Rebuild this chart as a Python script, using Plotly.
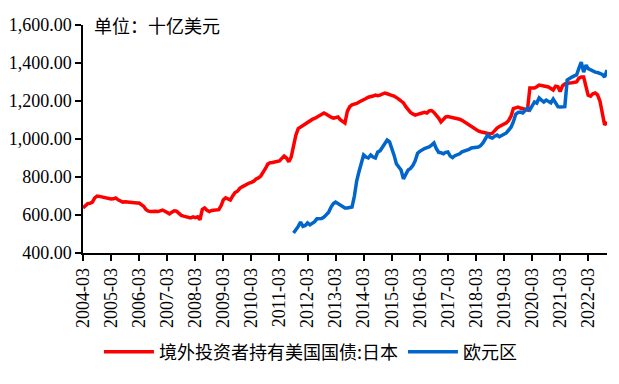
import pandas as pd
import plotly.graph_objects as go

# Monthly, 2004-03 .. 2022-11
japan = [
    637, 648, 660, 662, 668, 690, 700, 698, 695, 692, 690, 685,
    684, 685, 690, 680, 672, 668, 670, 668, 667, 668, 665, 663,
    663, 655, 645, 628, 620, 618, 620, 620, 618, 622, 626, 620,
    612, 606, 615, 622, 620, 608, 598, 594, 592, 588, 585, 590,
    586, 590, 575, 630, 637, 625, 618, 624, 626, 625, 628, 650,
    680, 690, 684, 679, 700, 718, 725, 740, 748, 755, 765, 768,
    772, 778, 790, 795, 805, 822, 845, 868, 875, 876, 878, 880,
    885, 898, 910, 900, 880, 905, 965, 1020, 1055, 1063, 1072, 1082,
    1090, 1098, 1103, 1108, 1115, 1122, 1128, 1137, 1130, 1121, 1115, 1110,
    1112, 1116, 1102, 1090, 1084, 1145, 1170, 1180, 1183, 1187, 1195, 1203,
    1208, 1213, 1220, 1222, 1226, 1231, 1228, 1231, 1238, 1242, 1238, 1236,
    1230, 1226, 1220, 1210, 1200, 1190, 1170, 1155, 1140, 1132, 1126, 1130,
    1135, 1137, 1140, 1137, 1148, 1150, 1140, 1126, 1110, 1090, 1105, 1116,
    1118, 1116, 1114, 1110, 1108, 1104, 1098, 1090, 1082, 1072, 1063, 1055,
    1047, 1042, 1038, 1035, 1032, 1030, 1027, 1030, 1047, 1058, 1066, 1072,
    1074, 1085, 1098, 1120, 1160, 1165, 1168, 1163, 1158, 1155, 1153, 1268,
    1270, 1268, 1275, 1284, 1282, 1279, 1277, 1274, 1266, 1258, 1278, 1275,
    1250, 1280, 1290, 1295, 1295, 1296, 1298, 1300, 1320, 1326, 1326, 1280,
    1230, 1225, 1238, 1242, 1232, 1200, 1130, 1074, 1090,
]

# Monthly, 2011-09 .. 2022-11
euro = [
    505, 520, 540, 563, 540, 545,
    558, 548, 555, 565, 580, 582, 582, 589, 600, 615, 642, 660,
    668, 660, 653, 640, 637, 637, 638, 642, 700, 780, 830, 870,
    916, 905, 900, 916, 905, 900, 932, 938, 955, 972, 995, 985,
    955, 915, 870, 850, 837, 790, 810, 837, 845, 860, 885, 925,
    935, 945, 950, 955, 958, 968, 979, 950, 930, 928, 922, 930,
    932, 910, 902, 912, 916, 922, 932, 935, 942, 945, 953, 955,
    957, 958, 965, 979, 1000, 1021, 1008, 1005, 1015, 1021, 1012, 1021,
    1025, 1032, 1045, 1062, 1090, 1130, 1140, 1142, 1137, 1150, 1163, 1153,
    1175, 1195, 1189, 1216, 1205, 1195, 1205, 1195, 1190, 1210, 1185, 1170,
    1168, 1168, 1170, 1310, 1320, 1326, 1332, 1337, 1373, 1405, 1352, 1389,
    1370, 1363, 1355, 1352, 1350, 1347, 1340, 1326, 1363,
]

japan_dates = pd.date_range("2004-03-01", periods=len(japan), freq="MS")
euro_dates = pd.date_range("2011-09-01", periods=len(euro), freq="MS")

tick_years = list(range(2004, 2023))
tick_vals = [f"{y}-03-01" for y in tick_years]
tick_text = [f"{y}-03" for y in tick_years]

name_japan = "境外投资者持有美国国债:日本"
name_euro = "欧元区"
unit_text = "单位：十亿美元"

serif = "'Liberation Serif', 'Times New Roman', 'DejaVu Serif', serif"
cjk = "'Noto Sans CJK SC', sans-serif"

fig = go.Figure()
fig.add_trace(go.Scatter(x=japan_dates, y=japan, mode="lines", name=name_japan,
                         line=dict(color="#ff0000", width=3.5)))
fig.add_trace(go.Scatter(x=euro_dates, y=euro, mode="lines", name=name_euro,
                         line=dict(color="#0066cc", width=3.5)))

# page body has an 8px margin, so the figure is 8px smaller and margins shifted
fig.update_layout(
    width=611, height=376,
    margin=dict(l=75, r=12, t=17, b=131, autoexpand=False),
    paper_bgcolor="white", plot_bgcolor="white",
    font=dict(family=serif),
    showlegend=True,
    legend=dict(orientation="h", x=0.435, xanchor="center", y=-0.434, yanchor="middle",
                font=dict(family=cjk, size=18, color="#000000"),
                itemwidth=50, tracegroupgap=0),
    annotations=[dict(text=unit_text, x=(92 - 83) / 524, y=1600, xref="paper", yref="y",
                      showarrow=False, xanchor="left", yanchor="middle",
                      font=dict(family=cjk, size=18, color="#000000"))],
)

fig.update_xaxes(
    range=[japan_dates[0], japan_dates[-1]],
    tickmode="array", tickvals=tick_vals, ticktext=tick_text,
    tickangle=-90, ticks="outside", ticklen=6, tickcolor="#000000", tickwidth=1.5,
    showline=True, linecolor="#000000", linewidth=1.5,
    showgrid=False, zeroline=False,
    tickfont=dict(family=serif, size=18, color="#000000"),
)
fig.update_yaxes(
    range=[400, 1600], tickvals=[400, 600, 800, 1000, 1200, 1400, 1600],
    tickformat=",.2f", ticks="outside", ticklen=6, tickcolor="#000000", tickwidth=1.5,
    showline=True, linecolor="#000000", linewidth=1.5,
    showgrid=False, zeroline=False,
    tickfont=dict(family=serif, size=18, color="#000000"),
)

fig.write_html("out.html")
